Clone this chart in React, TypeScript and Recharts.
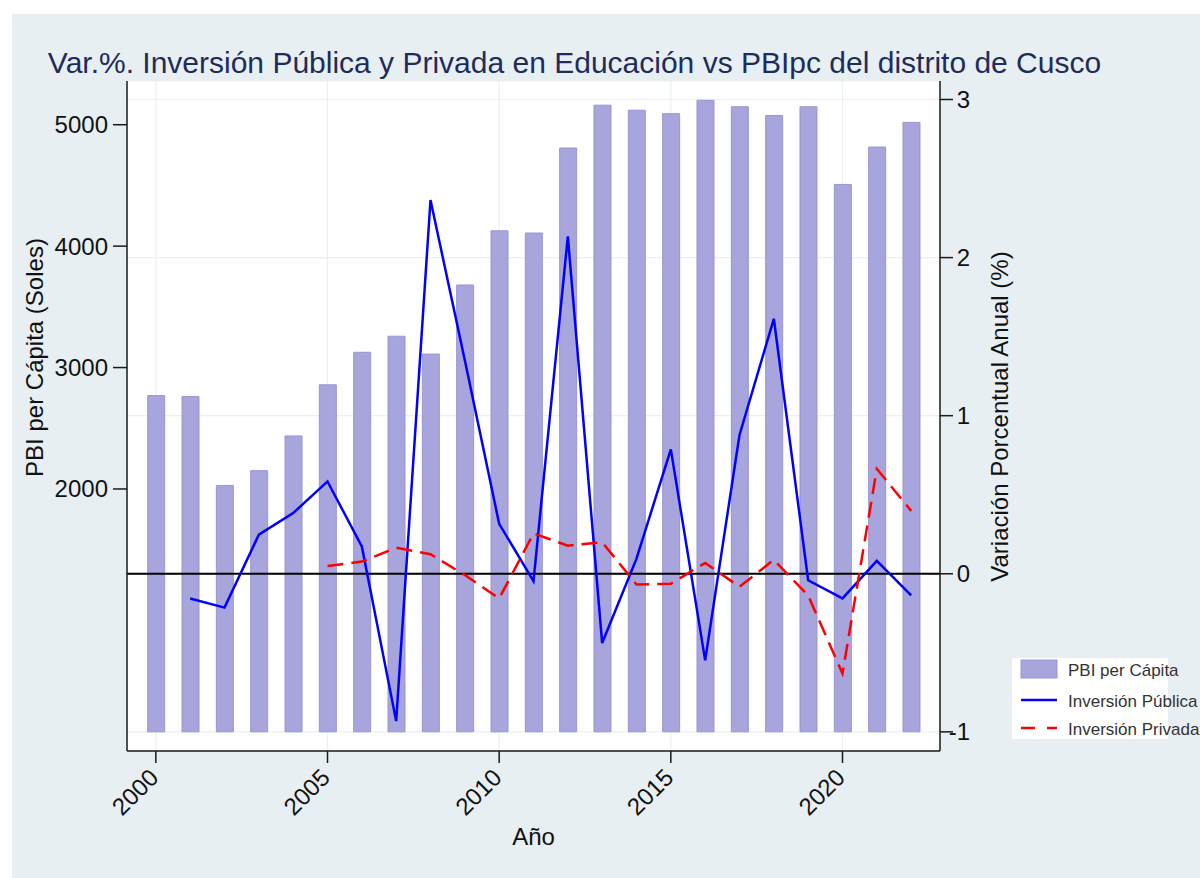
import React from 'react';
import {
  ComposedChart,
  Bar,
  Line,
  XAxis,
  YAxis,
  CartesianGrid,
  ReferenceLine,
  Legend,
  Label,
} from 'recharts';

const years = [
  2000, 2001, 2002, 2003, 2004, 2005, 2006, 2007, 2008, 2009, 2010, 2011,
  2012, 2013, 2014, 2015, 2016, 2017, 2018, 2019, 2020, 2021, 2022,
];
const pbiPerCapita = [
  2769, 2761, 2029, 2151, 2437, 2858, 3126, 3258, 3111, 3680, 4126, 4108,
  4808, 5161, 5119, 5091, 5201, 5148, 5076, 5148, 4508, 4816, 5019,
];
const inversionPublica = [
  null, -0.156, -0.214, 0.247, 0.384, 0.584, 0.173, -0.932, 2.364, 1.35,
  0.316, -0.046, 2.134, -0.438, 0.096, 0.787, -0.548, 0.878, 1.613, -0.041,
  -0.156, 0.082, -0.137,
];
const inversionPrivada = [
  null, null, null, null, null, 0.049, 0.077, 0.165, 0.124, -0.008, -0.156,
  0.255, 0.178, 0.2, -0.068, -0.063, 0.069, -0.082, 0.088, -0.137, -0.631,
  0.664, 0.398,
];
const xTicks = [2000, 2005, 2010, 2015, 2020];
const leftTicks = [2000, 3000, 4000, 5000];
const rightTicks = [-1, 0, 1, 2, 3];

const seriesNames = {
  pbi: 'PBI per Cápita',
  pub: 'Inversión Pública',
  priv: 'Inversión Privada',
};
const legendOrder = ['pbi', 'pub', 'priv'];

const data = years.map((y, i) => ({
  year: y,
  pbi: pbiPerCapita[i],
  pub: inversionPublica[i],
  priv: inversionPrivada[i],
}));

const FONT = "'Liberation Sans', Arial, Helvetica, sans-serif";
const BG = '#e8eff2';
const BAR_FILL = '#a8a4dc';
const BAR_STROKE = '#9a95d6';
const AXIS = '#1a1a1a';

const XTick = (props: any) => {
  const { x, y, payload } = props;
  const ax = x + 4;
  const ay = y + 14;
  return (
    <text
      x={ax}
      y={ay}
      textAnchor="end"
      transform={`rotate(-45, ${ax}, ${ay})`}
      fontSize={24}
      fontFamily={FONT}
      fill="#111"
    >
      {payload.value}
    </text>
  );
};

const LeftTick = (props: any) => {
  const { x, y, payload } = props;
  return (
    <text x={x} y={y} dy="0.355em" textAnchor="end" fontSize={24} fontFamily={FONT} fill="#111">
      {payload.value}
    </text>
  );
};

const RightTick = (props: any) => {
  const { x, y, payload } = props;
  return (
    <text x={x + 15} y={y} dy="0.355em" textAnchor="end" fontSize={24} fontFamily={FONT} fill="#111">
      {payload.value}
    </text>
  );
};

const LegendContent = (props: any) => {
  const payload = props.payload || [];
  const rowY = [11, 42, 70];
  const items = legendOrder
    .map((k) => payload.find((p: any) => p.dataKey === k))
    .filter(Boolean);
  return (
    <div style={{ position: 'relative', width: 188, height: 82 }}>
      <div style={{ position: 'absolute', left: 0, top: 0, width: 156, height: 81, background: '#fff' }} />
      <svg width={188} height={82} style={{ position: 'absolute', left: 0, top: 0 }}>
        {items.map((p: any, i: number) => {
          const cy = rowY[i];
          let sym: any = null;
          if (p.dataKey === 'pbi') {
            sym = <rect x={9} y={cy - 9} width={36} height={18} fill={BAR_FILL} stroke={BAR_STROKE} />;
          } else if (p.dataKey === 'pub') {
            sym = <line x1={9} x2={45} y1={cy} y2={cy} stroke="#0000ff" strokeWidth={2.5} />;
          } else {
            sym = <line x1={9} x2={45} y1={cy} y2={cy} stroke="#ff0000" strokeWidth={2.5} strokeDasharray="14 12" />;
          }
          return (
            <g key={p.dataKey}>
              {sym}
              <text x={56} y={cy + 6.5} fontSize={17} fontFamily={FONT} fill="#333">
                {p.value}
              </text>
            </g>
          );
        })}
      </svg>
    </div>
  );
};

export default function App() {
  return (
    <div
      style={{
        position: 'absolute',
        left: 0,
        top: 0,
        width: 1200,
        height: 878,
        overflow: 'hidden',
        background: '#fff',
        fontFamily: FONT,
      }}
    >
      <div style={{ position: 'absolute', left: 12, top: 14, right: 0, bottom: 0, background: BG }} />
      <div style={{ position: 'absolute', left: 0, top: 0 }}>
        <ComposedChart
          width={1200}
          height={878}
          data={data}
          margin={{ top: 81, right: 180, bottom: 27, left: 47 }}
        >
          <CartesianGrid
            yAxisId="right"
            fill="#ffffff"
            stroke="#e9f0f3"
            strokeWidth={1.2}
            horizontal={true}
            vertical={true}
          />
          <XAxis
            dataKey="year"
            type="number"
            domain={[1999.16, 2022.84]}
            ticks={xTicks}
            allowDataOverflow
            height={100}
            tickSize={12}
            tickMargin={2}
            tickLine={{ stroke: AXIS, strokeWidth: 1.5 }}
            axisLine={{ stroke: AXIS, strokeWidth: 1.5 }}
            tick={<XTick />}
            interval={0}
          >
            <Label
              content={(p: any) => {
                const vb = p.viewBox || { x: 127, width: 813 };
                return (
                  <text x={vb.x + vb.width / 2} y={845} textAnchor="middle" fontSize={24} fontFamily={FONT} fill="#111">
                    Año
                  </text>
                );
              }}
            />
          </XAxis>
          <YAxis
            yAxisId="left"
            orientation="left"
            width={80}
            domain={[-158, 5360]}
            ticks={leftTicks}
            allowDataOverflow
            tickSize={14}
            tickMargin={5}
            tickLine={{ stroke: AXIS, strokeWidth: 1.5 }}
            axisLine={{ stroke: AXIS, strokeWidth: 1.5 }}
            tick={<LeftTick />}
            interval={0}
          >
            <Label
              content={() => (
                <text
                  x={43}
                  y={357.5}
                  textAnchor="middle"
                  transform="rotate(-90, 43, 357.5)"
                  fontSize={24}
                  fontFamily={FONT}
                  fill="#111"
                >
                  PBI per Cápita (Soles)
                </text>
              )}
            />
          </YAxis>
          <YAxis
            yAxisId="right"
            orientation="right"
            width={80}
            domain={[-1.121, 3.117]}
            ticks={rightTicks}
            allowDataOverflow
            tickSize={13}
            tickMargin={2}
            tickLine={{ stroke: AXIS, strokeWidth: 1.5 }}
            axisLine={{ stroke: AXIS, strokeWidth: 1.5 }}
            tick={<RightTick />}
            interval={0}
          >
            <Label
              content={() => (
                <text
                  x={1008}
                  y={416.5}
                  textAnchor="middle"
                  transform="rotate(-90, 1008, 416.5)"
                  fontSize={24}
                  fontFamily={FONT}
                  fill="#111"
                >
                  Variación Porcentual Anual (%)
                </text>
              )}
            />
          </YAxis>
          <Bar
            yAxisId="left"
            dataKey="pbi"
            name={seriesNames.pbi}
            fill={BAR_FILL}
            stroke={BAR_STROKE}
            strokeWidth={1}
            barSize={17}
            isAnimationActive={false}
            legendType="rect"
          />
          <ReferenceLine yAxisId="right" y={0} stroke="#000" strokeWidth={2} />
          <Line
            yAxisId="right"
            dataKey="pub"
            name={seriesNames.pub}
            type="linear"
            stroke="#0000ff"
            strokeWidth={2.5}
            dot={false}
            activeDot={false}
            isAnimationActive={false}
            legendType="line"
          />
          <Line
            yAxisId="right"
            dataKey="priv"
            name={seriesNames.priv}
            type="linear"
            stroke="#ff0000"
            strokeWidth={2.5}
            strokeDasharray="16 8"
            dot={false}
            activeDot={false}
            isAnimationActive={false}
            legendType="line"
          />
          <Legend
            layout="horizontal"
            verticalAlign="middle"
            align="center"
            content={<LegendContent />}
            wrapperStyle={{ position: 'absolute', left: 1012, top: 658, width: 188, height: 82, margin: 0 }}
          />
        </ComposedChart>
      </div>
      <svg width={1200} height={80} style={{ position: 'absolute', left: 0, top: 0 }}>
        <text x={574.5} y={73.3} textAnchor="middle" fontSize={30} fontFamily={FONT} fill="#1e2c5c">
          Var.%. Inversión Pública y Privada en Educación vs PBIpc del distrito de Cusco
        </text>
      </svg>
    </div>
  );
}
